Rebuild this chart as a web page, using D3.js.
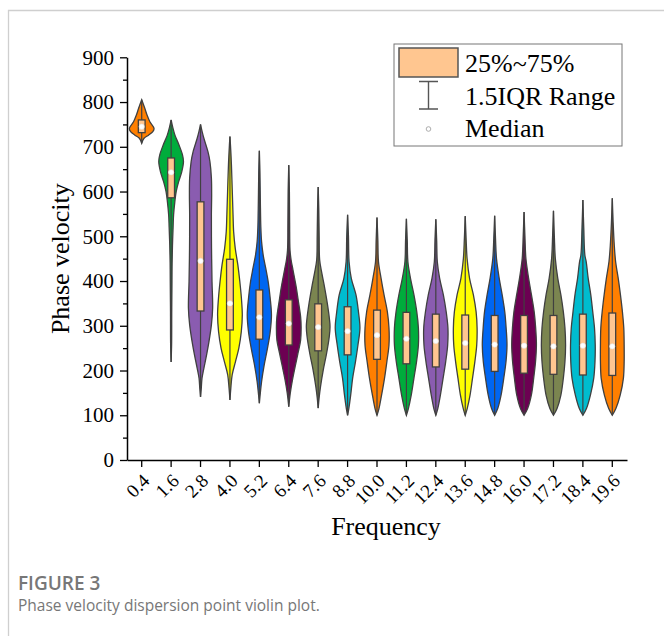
<!DOCTYPE html>
<html>
<head>
<meta charset="utf-8">
<script src="https://cdn.jsdelivr.net/npm/d3@7"></script>
<style>
	body { margin: 0; background: #fff; }
	.serif, .serif text { font-family: 'Liberation Serif', 'Times New Roman', serif; fill: #000; }
	.caption { font-family: 'Open Sans', 'Noto Sans', sans-serif; fill: #777; }
</style>
</head>
<body>
<svg id="chart" width="664" height="636"></svg>
<script>
// categories (frequency) and colours of each violin
var frequencies = ['0.4', '1.6', '2.8', '4.0', '5.2', '6.4', '7.6', '8.8', '10.0', '11.2', '12.4', '13.6', '14.8', '16.0', '17.2', '18.4', '19.6'];
var violinColors = ['#ff7f00', '#00ac3c', '#8a5cb0', '#ffff00', '#0066f2', '#6c0052', '#7b8550', '#00bccf',
	'#ff7f00', '#00ac3c', '#8a5cb0', '#ffff00', '#0066f2', '#6c0052', '#7b8550', '#00bccf', '#ff7f00'];

// box statistics
var q1s = [731.6, 586, 333, 290.6, 270, 257, 244, 235, 225, 215, 208, 203, 198, 194, 191.5, 190, 189];
var medians = [745, 643, 445, 350, 319, 305, 297, 288, 279, 271, 266, 261.5, 258, 255.5, 254, 255.5, 254];
var q3s = [760, 675, 577, 448.6, 380, 358, 349, 342.5, 335, 330, 326, 324, 323, 323, 323, 326, 328.5];
var lows = [708, 219, 141, 134, 127, 119, 116, 100, 100, 100, 100, 100, 100, 100, 100, 100, 100];
var highs = [805, 760, 750, 723, 691, 659, 610, 548, 542, 539, 538, 545, 546, 554, 557, 581, 585];

// relative density profiles [phase velocity, density] from top to bottom
var profiles = [
	[[805, 0], [786, .25], [771, .43], [756, .66], [741, 1], [734, .9], [726, .55], [719, .19], [708, 0]],
	[[760, 0], [745, .12], [726, .31], [704, .64], [682, .92], [667, 1], [644, .86], [622, .61], [600, .41], [577, .3], [548, .2], [520, .16], [480, .11], [440, .08], [400, .07], [330, .05], [260, .04], [219, 0]],
	[[750, 0], [735, .12], [719, .27], [689, .6], [667, .76], [630, .88], [592, .9], [548, .88], [473, .89], [399, .93], [339, .98], [302, .88], [264, .68], [235, .49], [205, .27], [183, .12], [160, .06], [141, 0]],
	[[723, 0], [690, .07], [660, .12], [600, .19], [548, .25], [510, .3], [473, .43], [436, .64], [399, .8], [361, .93], [324, 1], [287, .92], [250, .72], [220, .45], [190, .18], [160, .07], [134, 0]],
	[[691, 0], [640, .05], [580, .08], [520, .12], [488, .18], [458, .31], [428, .52], [399, .71], [361, .88], [324, .98], [287, .88], [250, .66], [212, .39], [175, .18], [150, .08], [127, 0]],
	[[659, 0], [600, .05], [530, .07], [469, .1], [447, .19], [425, .34], [387, .6], [358, .76], [320, .96], [298, 1], [268, .96], [238, .74], [209, .52], [179, .3], [149, .12], [119, 0]],
	[[610, 0], [560, .05], [500, .08], [447, .12], [417, .3], [387, .51], [350, .74], [313, .92], [298, .96], [276, .9], [238, .68], [201, .41], [164, .19], [140, .08], [116, 0]],
	[[548, 0], [500, .07], [443, .12], [406, .3], [369, .68], [331, .88], [295, 1], [257, .84], [220, .64], [183, .41], [145, .25], [115, .1], [100, 0]],
	[[542, 0], [490, .07], [443, .12], [406, .33], [369, .57], [331, .84], [295, .97], [257, .97], [220, .8], [183, .61], [145, .37], [115, .16], [100, 0]],
	[[539, 0], [490, .07], [443, .12], [406, .33], [369, .61], [331, .84], [295, .97], [257, .97], [220, .82], [183, .61], [145, .39], [115, .16], [100, 0]],
	[[538, 0], [490, .07], [443, .12], [406, .31], [369, .61], [331, .84], [295, .98], [257, .96], [220, .8], [183, .59], [145, .37], [115, .16], [100, 0]],
	[[545, 0], [495, .07], [450, .15], [406, .35], [369, .66], [331, .88], [295, .96], [257, .93], [220, .78], [183, .59], [145, .39], [115, .16], [100, 0]],
	[[546, 0], [495, .07], [450, .15], [406, .37], [369, .61], [331, .82], [295, .93], [257, 1], [220, .92], [183, .74], [145, .52], [115, .25], [100, 0]],
	[[554, 0], [500, .07], [450, .15], [406, .37], [369, .6], [331, .82], [295, .94], [257, 1], [220, .93], [183, .78], [145, .59], [115, .29], [100, 0]],
	[[557, 0], [500, .07], [450, .15], [406, .35], [369, .6], [331, .8], [295, .93], [257, .98], [220, .93], [183, .8], [145, .6], [115, .29], [100, 0]],
	[[581, 0], [520, .07], [458, .16], [443, .27], [406, .43], [369, .64], [331, .8], [295, .94], [257, 1], [220, .98], [183, .88], [145, .61], [115, .29], [100, 0]],
	[[585, 0], [530, .07], [480, .16], [443, .27], [406, .48], [369, .66], [331, .82], [295, .93], [257, .96], [220, .96], [183, .9], [145, .64], [115, .29], [100, 0]]
];

var yTicks = [0, 100, 200, 300, 400, 500, 600, 700, 800, 900];
var yMinorTicks = [50, 150, 250, 350, 450, 550, 650, 750, 850];
var legendLabels = ['25%~75%', '1.5IQR Range', 'Median'];

var CONFIG = {
	plot: { left: 127, right: 627, top: 57.3, bottom: 460 },
	edge: '#404040',
	boxFill: '#ffc690',
	serif: "'Liberation Serif', 'Times New Roman', serif"
};

var svg = d3.select('#chart');

// figure frame (light grey, top and left only)
svg.append('path').attr('d', 'M8.5,636 V10.5 H664').attr('fill', 'none').attr('stroke', '#cfcfcf').attr('stroke-width', 1.3);

var x = d3.scaleBand().domain(frequencies).range([ CONFIG.plot.left, CONFIG.plot.right ]).padding(0);
var y = d3.scaleLinear().domain([ 0, 900 ]).range([ CONFIG.plot.bottom, CONFIG.plot.top ]);
var w = d3.scaleLinear().domain([ 0, 1 ]).range([ 0, x.bandwidth() * 0.42 ]);
var boxHalf = x.bandwidth() * 0.115;

var g = svg.append('g');

frequencies.forEach((f, i) => {
	var cx = x(f) + x.bandwidth() / 2;
	var area = d3
		.area()
		.curve(d3.curveCatmullRom.alpha(0.5))
		.y((d) => y(d[0]))
		.x0((d) => cx - w(d[1]))
		.x1((d) => cx + w(d[1]));

	// violin body
	g
		.append('path')
		.attr('d', area(profiles[i]))
		.attr('fill', violinColors[i])
		.attr('stroke', CONFIG.edge)
		.attr('stroke-width', 1.3);

	// whisker line through the violin
	g
		.append('line')
		.attr('x1', cx)
		.attr('x2', cx)
		.attr('y1', y(highs[i]))
		.attr('y2', y(lows[i]))
		.attr('stroke', CONFIG.edge)
		.attr('stroke-width', 1.2);

	// interquartile box
	g
		.append('rect')
		.attr('x', cx - boxHalf)
		.attr('y', y(q3s[i]))
		.attr('width', boxHalf * 2)
		.attr('height', y(q1s[i]) - y(q3s[i]))
		.attr('fill', CONFIG.boxFill)
		.attr('stroke', CONFIG.edge)
		.attr('stroke-width', 1.3);

	// median
	g
		.append('circle')
		.attr('cx', cx)
		.attr('cy', y(medians[i]))
		.attr('r', 2.6)
		.attr('fill', '#fff')
		.attr('stroke', '#e8e8e8')
		.attr('stroke-width', 0.6);
});

// y axis with minor ticks
var yAxis = svg
	.append('g')
	.attr('transform', 'translate(' + CONFIG.plot.left + ',0)')
	.call(d3.axisLeft(y).tickValues(yTicks).tickSize(7).tickSizeOuter(0).tickPadding(6).tickFormat(d3.format('d')));
svg
	.append('g')
	.attr('transform', 'translate(' + CONFIG.plot.left + ',0)')
	.call(d3.axisLeft(y).tickValues(yMinorTicks).tickSize(4).tickSizeOuter(0).tickFormat(''))
	.call((s) => s.select('.domain').remove());

// x axis
var xAxis = svg
	.append('g')
	.attr('transform', 'translate(0,' + CONFIG.plot.bottom + ')')
	.call(d3.axisBottom(x).tickSize(7).tickSizeOuter(0));

svg.selectAll('.domain').attr('stroke', '#000').attr('stroke-width', 1.5);
svg.selectAll('.tick line').attr('stroke', '#000').attr('stroke-width', 1.3);
yAxis.attr('font-family', null).attr('font-size', null).attr('class', 'serif');
xAxis.attr('font-family', null).attr('font-size', null).attr('class', 'serif');
yAxis.selectAll('text').style('font-family', CONFIG.serif).style('font-size', '21px').style('fill', '#000');
xAxis
	.selectAll('text')
	.style('font-family', CONFIG.serif)
	.style('font-size', '19px')
	.style('fill', '#000')
	.attr('text-anchor', 'end')
	.attr('dy', null)
	.attr('y', 0)
	.attr('transform', 'translate(9,22) rotate(-45)');

// axis titles
svg
	.append('text')
	.attr('class', 'serif')
	.attr('transform', 'translate(69,' + (CONFIG.plot.top + CONFIG.plot.bottom) / 2 + ') rotate(-90)')
	.attr('text-anchor', 'middle')
	.attr('font-size', 26)
	.text('Phase velocity');
svg
	.append('text')
	.attr('class', 'serif')
	.attr('x', 386)
	.attr('y', 535)
	.attr('text-anchor', 'middle')
	.attr('font-size', 26)
	.text('Frequency');

// legend
var lg = svg.append('g').attr('transform', 'translate(394,44)');
lg.append('rect').attr('width', 228).attr('height', 102).attr('fill', '#fff').attr('stroke', '#777').attr('stroke-width', 1);
lg
	.append('rect')
	.attr('x', 5)
	.attr('y', 4)
	.attr('width', 59)
	.attr('height', 29)
	.attr('fill', CONFIG.boxFill)
	.attr('stroke', '#555')
	.attr('stroke-width', 1.5);
lg
	.append('path')
	.attr('d', 'M25,37.5 H44 M34.5,37.5 V65 M25,65 H44')
	.attr('fill', 'none')
	.attr('stroke', '#555')
	.attr('stroke-width', 1.4);
lg.append('circle').attr('cx', 34.5).attr('cy', 85).attr('r', 2.3).attr('fill', '#fff').attr('stroke', '#999').attr('stroke-width', 0.8);
lg
	.selectAll('text.lbl')
	.data(legendLabels)
	.enter()
	.append('text')
	.attr('class', 'serif lbl')
	.attr('x', 71)
	.attr('y', (d, i) => 28 + i * 32.5)
	.attr('font-size', 26)
	.text((d) => d);

// caption
svg
	.append('text')
	.attr('class', 'caption')
	.attr('x', 18)
	.attr('y', 590)
	.attr('font-size', 19)
	.attr('font-weight', 600)
	.text('FIGURE 3');
svg
	.append('text')
	.attr('class', 'caption')
	.attr('x', 18)
	.attr('y', 611)
	.attr('font-size', 15.5)
	.text('Phase velocity dispersion point violin plot.');
</script>
</body>
</html>
